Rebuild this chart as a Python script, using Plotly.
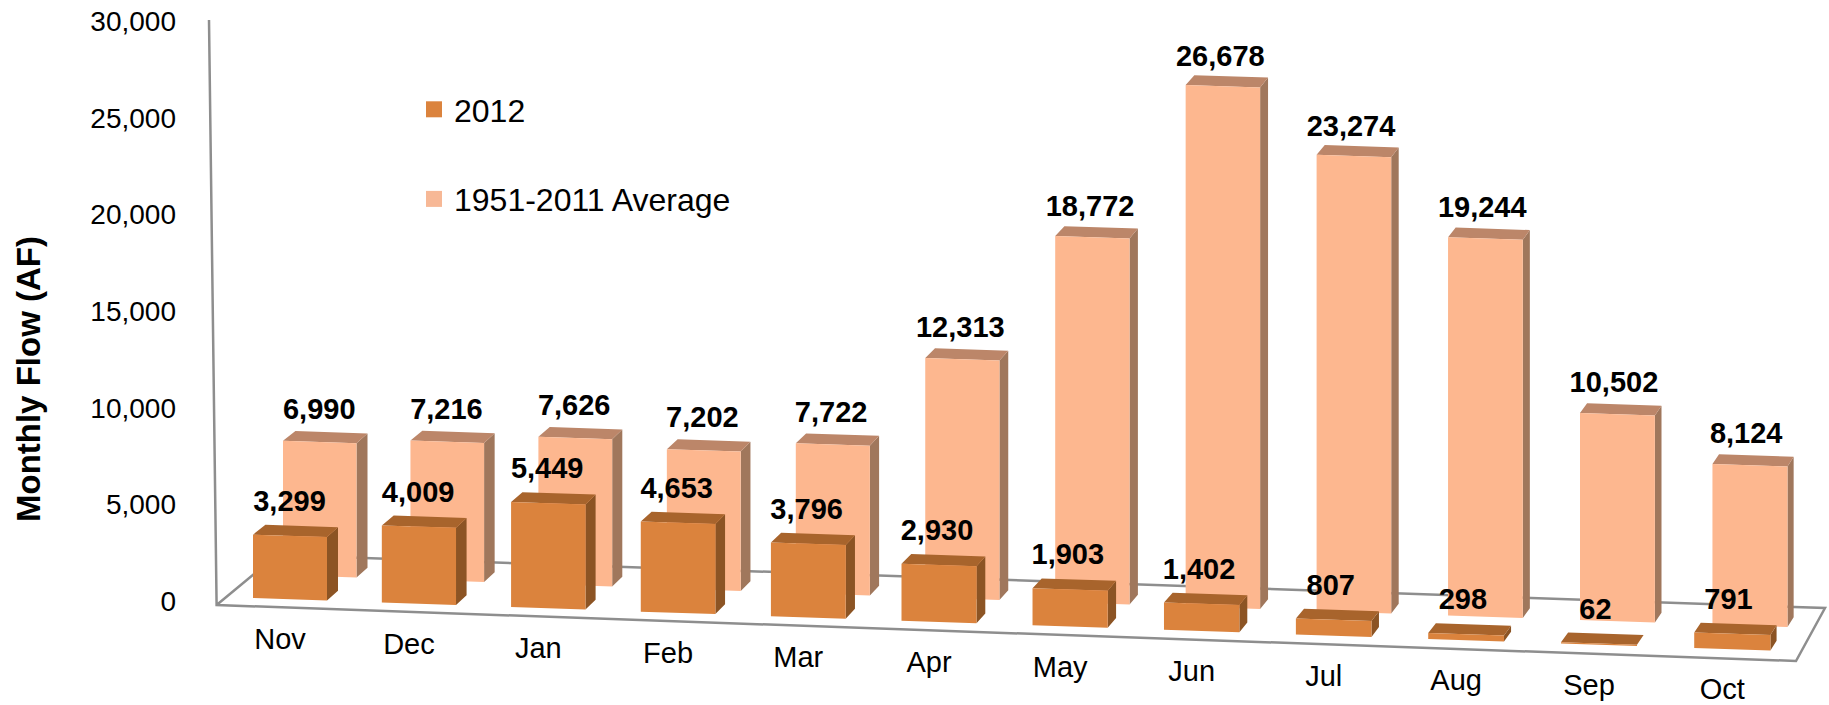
import plotly.graph_objects as go

# ---- data ----
months = ["Nov", "Dec", "Jan", "Feb", "Mar", "Apr", "May", "Jun", "Jul", "Aug", "Sep", "Oct"]
flow_2012 = [3299, 4009, 5449, 4653, 3796, 2930, 1903, 1402, 807, 298, 62, 791]
flow_avg = [6990, 7216, 7626, 7202, 7722, 12313, 18772, 26678, 23274, 19244, 10502, 8124]
y_ticks = [0, 5000, 10000, 15000, 20000, 25000, 30000]
series_names = ["2012", "1951-2011 Average"]

# ---- colours ----
FRONT = ("#DB833D", "#A8642C", "#8C5424")
BACK = ("#FDB78F", "#BC8669", "#A0775C")
FLOOR = "#8E8E8E"
FONT = "Liberation Sans"

# ---- oblique projection of the 3-D chart box (screen pixels) ----
W, H = 1829, 705
ML = 177
Y0_PX, K_AXIS = 601.0, 0.01933


def data_y(py):
    return (Y0_PX - py) / K_AXIS


def vscale(i):
    return 0.0192 + 0.00005 * i


def front_geom(i):
    return 253 + 128.6 * i + 0.22 * i * i, 74 + 0.2 * i, 598 + 4.55 * i


def back_geom(i):
    return 283 + 127.2 * i + 0.25 * i * i, 73.5 + 0.14 * i, 575 + 4.5 * i


def polys(values, geom):
    face, top, side = ([], []), ([], []), ([], [])
    tops = []
    for i, v in enumerate(values):
        x0, w, yb = geom(i)
        x1 = x0 + w
        tilt = 0.033 * w
        h = vscale(i) * v
        dl, dr, dy = 12.4 - 0.53 * i, 11 - 0.44 * i, 9.8
        yt = yb - h
        pieces = [
            (face, [(x0, yb), (x1, yb + tilt), (x1, yt + tilt), (x0, yt)]),
            (top, [(x0, yt), (x1, yt + tilt), (x1 + dr, yt + tilt - dy), (x0 + dl, yt - dy)]),
            (side, [(x1, yb + tilt), (x1 + dr, yb + tilt - dy), (x1 + dr, yt + tilt - dy), (x1, yt + tilt)]),
        ]
        for store, pts in pieces:
            for px, py in pts + [pts[0]]:
                store[0].append(px)
                store[1].append(data_y(py))
            store[0].append(None)
            store[1].append(None)
        tops.append((x0 + w / 2, yt, yb))
    return face, top, side, tops


def poly_trace(store, color):
    return go.Scatter(x=store[0], y=store[1], mode="lines", fill="toself", fillcolor=color,
                      line=dict(width=0, color=color), hoverinfo="skip", showlegend=False)


fig = go.Figure()

# floor and wall lines
floor_px = [(209, 20), (216.6, 605), (1796, 661), (1825, 608), (277, 555), (216.6, 605)]
fig.add_trace(go.Scatter(x=[p[0] for p in floor_px], y=[data_y(p[1]) for p in floor_px], mode="lines",
                         line=dict(color=FLOOR, width=2.5), hoverinfo="skip", showlegend=False))

f_face, f_top, f_side, f_tops = polys(flow_2012, front_geom)
b_face, b_top, b_side, b_tops = polys(flow_avg, back_geom)
for store, color in zip((b_side, b_top, b_face), (BACK[2], BACK[1], BACK[0])):
    fig.add_trace(poly_trace(store, color))
for store, color in zip((f_side, f_top, f_face), (FRONT[2], FRONT[1], FRONT[0])):
    fig.add_trace(poly_trace(store, color))

# value labels
for tops, values, off, slack in ((b_tops, flow_avg, 30.0, 0.00015), (f_tops, flow_2012, 31.0, 0.0)):
    fig.add_trace(go.Scatter(
        x=[t[0] - 0.3 * i - 0.5 for i, t in enumerate(tops)],
        y=[data_y(t[1] - off + slack * v) for t, v in zip(tops, values)],
        text=[f"{v:,}" for v in values], mode="text", textposition="middle center",
        textfont=dict(family=FONT, size=29, color="black", weight="bold"),
        hoverinfo="skip", showlegend=False, cliponaxis=False))

# month labels
fig.add_trace(go.Scatter(
    x=[t[0] - 10 for t in f_tops], y=[data_y(t[2] + 44) for t in f_tops], text=months,
    mode="text", textposition="middle center", textfont=dict(family=FONT, size=29, color="black"),
    hoverinfo="skip", showlegend=False, cliponaxis=False))

# legend entries
for name, color in zip(series_names, (FRONT[0], "#F7B896")):
    fig.add_trace(go.Scatter(x=[None], y=[None], mode="markers", name=name, legendgroup=name,
                             marker=dict(symbol="square", size=17, color=color)))

fig.update_layout(
    width=W, height=H, margin=dict(l=ML, r=0, t=0, b=0),
    paper_bgcolor="white", plot_bgcolor="white",
    xaxis=dict(range=[ML, W], visible=False, fixedrange=True),
    yaxis=dict(range=[data_y(H), data_y(0)], tickvals=y_ticks, tickformat=",", showgrid=False,
               zeroline=False, showline=False, ticks="", tickfont=dict(family=FONT, size=28, color="black"),
               fixedrange=True),
    legend=dict(x=(414 - ML) / (W - ML), xanchor="left", y=1 - 82 / H, yanchor="top",
                font=dict(family=FONT, size=32, color="black"), tracegroupgap=45,
                bgcolor="rgba(0,0,0,0)", itemclick=False, itemdoubleclick=False),
    annotations=[dict(text="<b>Monthly Flow (AF)</b>", textangle=-90, xref="paper", yref="paper",
                      x=(28 - ML) / (W - ML), y=1 - 379 / H, xanchor="center", yanchor="middle",
                      showarrow=False, font=dict(family=FONT, size=33, color="black"))],
)

fig.write_html("out.html", config={"displayModeBar": False},
               post_script="document.body.style.margin='0';document.body.style.overflow='hidden';")
